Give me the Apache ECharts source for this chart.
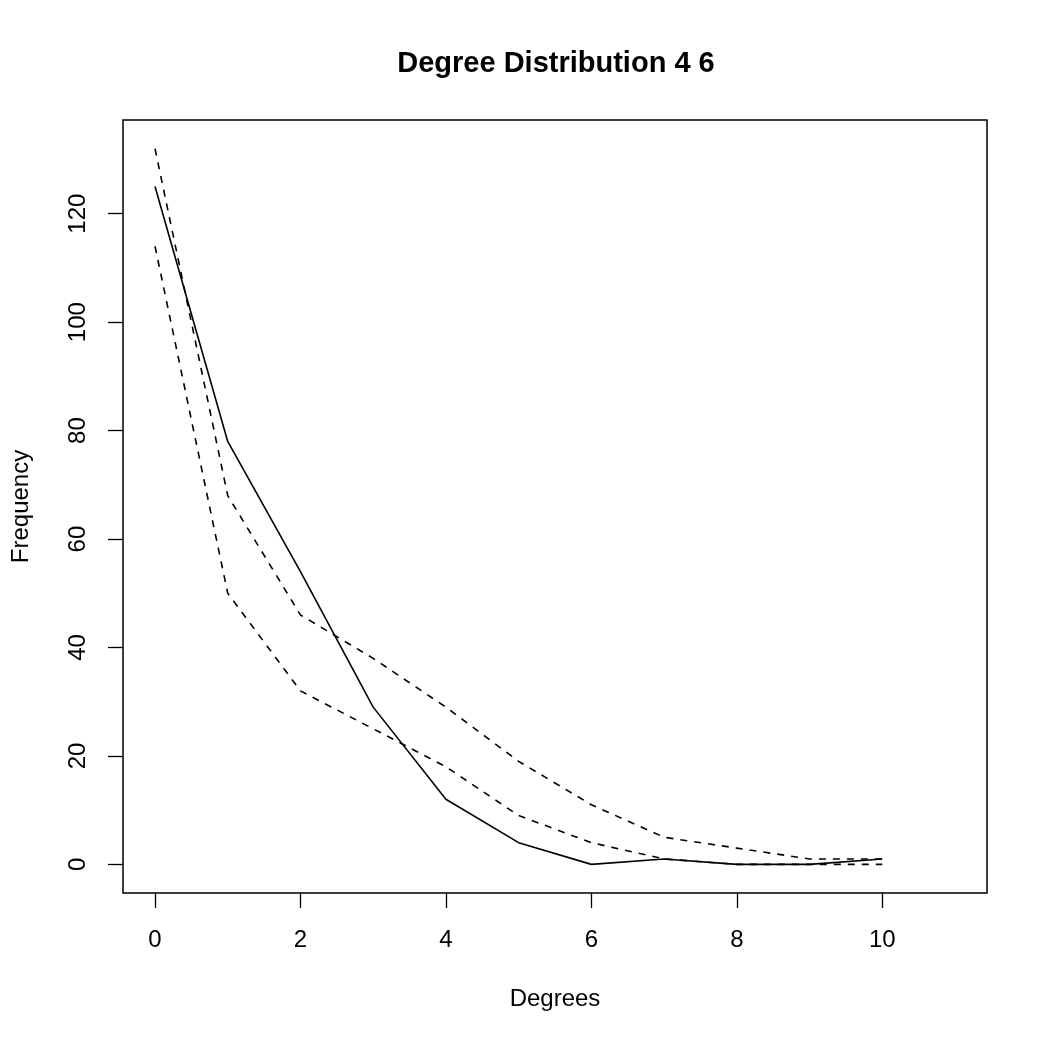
<!doctype html>
<html>
	<head>
		<meta charset="UTF-8">
		<title>Degree Distribution 4 6</title>
		<style type="text/css">
			html, body {
				margin: 0;
				padding: 0;
				background: #fff;
			}
			#chart {
				width: 1048px;
				height: 1048px;
			}
		</style>
	</head>
	<body>
		<div id="chart"></div>
		<script src="https://cdn.jsdelivr.net/npm/echarts@6/dist/echarts.min.js"></script>
		<script type="text/javascript">
			// 数据
			var degrees = [0, 1, 2, 3, 4, 5, 6, 7, 8, 9, 10];
			var freqMain = [125, 78, 54, 29, 12, 4, 0, 1, 0, 0, 1];
			var freqUpper = [132, 68, 46, 38, 29, 19, 11, 5, 3, 1, 1];
			var freqLower = [114, 50, 32, 25, 18, 9, 4, 1, 0, 0, 0];
			var xTicks = [0, 2, 4, 6, 8, 10];
			var yTicks = [0, 20, 40, 60, 80, 100, 120];

			function pairs(ys) {
				return degrees.map(function (d, i) { return [d, ys[i]]; });
			}

			var font = 'Liberation Sans, Arial, Helvetica, sans-serif';
			var chart = echarts.init(document.getElementById('chart'), null, { renderer: 'canvas' });

			var option = {
				backgroundColor: '#ffffff',
				animation: false,
				title: {
					text: 'Degree Distribution 4 6',
					left: 551,
					top: 44,
					textAlign: 'center',
					textStyle: {
						fontFamily: font,
						fontWeight: 'bold',
						fontSize: 29,
						color: '#000'
					}
				},
				grid: {
					left: 123,
					right: 61,
					top: 120,
					bottom: 155,
					show: true,
					borderColor: '#000',
					borderWidth: 1.5,
					backgroundColor: 'transparent'
				},
				xAxis: {
					type: 'value',
					min: -0.44,
					max: 11.44,
					name: 'Degrees',
					nameLocation: 'middle',
					nameGap: 94,
					nameTextStyle: { fontFamily: font, fontSize: 24, color: '#000' },
					axisLine: { show: false, onZero: false },
					splitLine: { show: false },
					axisTick: {
						show: true,
						length: 15,
						customValues: xTicks,
						lineStyle: { color: '#000', width: 1.3 }
					},
					axisLabel: {
						customValues: xTicks,
						margin: 35,
						fontFamily: font,
						fontSize: 24,
						color: '#000'
					}
				},
				yAxis: {
					type: 'value',
					min: -5.28,
					max: 137.28,
					name: 'Frequency',
					nameLocation: 'middle',
					nameGap: 90,
					nameRotate: 90,
					nameTextStyle: { fontFamily: font, fontSize: 24, color: '#000' },
					axisLine: { show: false, onZero: false },
					splitLine: { show: false },
					axisTick: {
						show: true,
						length: 15,
						customValues: yTicks,
						lineStyle: { color: '#000', width: 1.3 }
					},
					axisLabel: {
						customValues: yTicks,
						rotate: 90,
						margin: 33,
						fontFamily: font,
						fontSize: 24,
						color: '#000'
					}
				},
				series: [
					{
						name: 'observed',
						type: 'line',
						data: pairs(freqMain),
						symbol: 'none',
						lineStyle: { color: '#000', width: 1.6, type: 'solid' },
						z: 3
					},
					{
						name: 'upper',
						type: 'line',
						data: pairs(freqUpper),
						symbol: 'none',
						lineStyle: { color: '#000', width: 1.6, type: [7, 7] }
					},
					{
						name: 'lower',
						type: 'line',
						data: pairs(freqLower),
						symbol: 'none',
						lineStyle: { color: '#000', width: 1.6, type: [7, 7] }
					}
				]
			};
			chart.setOption(option);
		</script>
	</body>
</html>
